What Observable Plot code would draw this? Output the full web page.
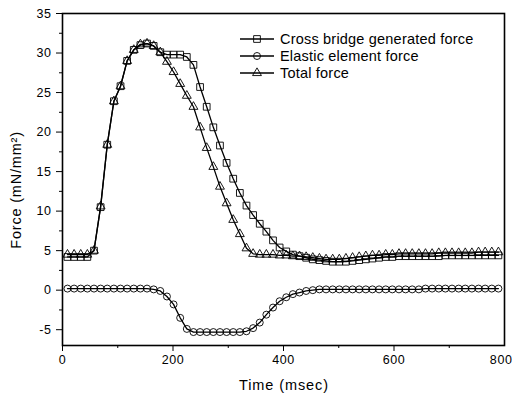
<!DOCTYPE html>
<html><head><meta charset="utf-8">
<script src="https://cdn.jsdelivr.net/npm/d3@7"></script>
<script src="https://cdn.jsdelivr.net/npm/@observablehq/plot@0.6"></script>
<style>body{margin:0;background:#fff}#chart{width:512px;height:397px}</style>
</head><body><div id="chart"></div>
<script>
const times = [9,21,33,45,57,69,81,93,105,117,129,141,153,165,177,189,201,213,225,237,249,261,273,285,297,309,321,333,345,357,369,381,393,405,417,429,441,453,465,477,489,501,513,525,537,549,561,573,585,597,609,621,633,645,657,669,681,693,705,717,729,741,753,765,777,789];
const crossBridge = [4.2,4.2,4.2,4.2,5.0,10.5,18.4,23.9,25.8,29.0,30.4,31.0,31.2,30.9,30.1,29.8,29.8,29.8,29.5,28.5,25.7,23.2,20.6,18.3,16.1,14.1,12.3,10.7,9.5,8.4,7.4,6.3,5.4,4.9,4.5,4.3,4.1,3.9,3.8,3.7,3.6,3.6,3.6,3.7,3.8,3.9,4.0,4.1,4.2,4.2,4.3,4.3,4.3,4.3,4.3,4.3,4.3,4.4,4.4,4.4,4.4,4.4,4.4,4.4,4.4,4.4];
const elastic = [0.2,0.2,0.2,0.2,0.2,0.2,0.2,0.2,0.2,0.2,0.2,0.2,0.2,0.1,-0.1,-0.8,-1.8,-3.5,-4.9,-5.3,-5.3,-5.3,-5.3,-5.3,-5.3,-5.3,-5.3,-5.2,-4.8,-4.1,-3.1,-2.2,-1.4,-0.9,-0.5,-0.3,-0.1,0.0,0.1,0.1,0.1,0.1,0.1,0.1,0.1,0.1,0.1,0.1,0.1,0.1,0.1,0.1,0.1,0.1,0.2,0.2,0.2,0.2,0.2,0.2,0.2,0.2,0.2,0.2,0.2,0.2];
const total = [4.5,4.5,4.5,4.5,5.0,10.6,18.4,23.9,25.8,29.0,30.4,31.1,31.2,30.9,30.1,28.9,27.6,26.1,24.6,23.2,20.6,18.0,15.6,13.1,11.0,8.9,7.1,5.3,4.6,4.5,4.5,4.5,4.4,4.4,4.3,4.3,4.2,4.1,4.0,3.9,3.9,3.9,4.0,4.1,4.2,4.3,4.4,4.4,4.5,4.5,4.6,4.6,4.6,4.6,4.6,4.6,4.7,4.7,4.7,4.7,4.7,4.7,4.8,4.8,4.8,4.8];
const seriesNames = ["Cross bridge generated force","Elastic element force","Total force"];
const seriesSymbols = ["square","circle","triangle"];
const yTicks = [-5,0,5,10,15,20,25,30,35];
const yMinor = [-2.5,2.5,7.5,12.5,17.5,22.5,27.5,32.5];
const xTicks = [0,200,400,600];
const xLastTick = [800];
const xMinor = [100,300,500,700];

const seriesValues = [crossBridge, elastic, total];
const symR = {square:3.8, circle:3.5, triangle:3.3};
const FONT = "'Liberation Sans', Arial, Helvetica, sans-serif";

const marks = [
  Plot.frame({stroke:"#000", strokeWidth:1.6}),
  Plot.axisY({ticks:yTicks, tickSize:6, tickPadding:5, tickFormat:d=>String(d), fontSize:12.5, label:null}),
  Plot.axisY({ticks:yMinor, tickSize:3, text:null, label:null}),
  Plot.axisX({ticks:xTicks, tickSize:6, tickPadding:4, tickFormat:d=>String(d), fontSize:12.5, label:null}),
  Plot.axisX({ticks:xLastTick, tickSize:6, tickPadding:4, tickFormat:d=>String(d), fontSize:12.5, textAnchor:"end", dx:8, label:null}),
  Plot.axisX({ticks:xMinor, tickSize:3, text:null, label:null})
];
seriesValues.forEach((vals, i) => {
  const data = times.map((t, j) => ({t, v: vals[j]}));
  marks.push(Plot.line(data, {x:"t", y:"v", stroke:"#000", strokeWidth:1.3}));
  marks.push(Plot.dot(data, {x:"t", y:"v", symbol:()=>seriesSymbols[i], r:symR[seriesSymbols[i]], stroke:"#000", strokeWidth:0.9, fill:"none"}));
});

const svgEl = Plot.plot({
  width:512, height:397,
  marginLeft:62, marginRight:8, marginTop:13, marginBottom:52,
  x:{domain:[0,800], label:null},
  y:{domain:[-7,35], label:null},
  symbol:{domain:seriesSymbols, range:seriesSymbols},
  style:{fontFamily:FONT, fontSize:"12.5px", color:"#000", background:"#fff", letterSpacing:"0.6px"},
  marks
});
document.getElementById("chart").appendChild(svgEl);

const svg = d3.select(svgEl);
// Legend
const lg = svg.append("g").attr("text-anchor","start");
const symMap = {square:d3.symbolSquare, circle:d3.symbolCircle, triangle:d3.symbolTriangle};
seriesNames.forEach((name, i) => {
  const cy = 39 + i*17;
  lg.append("line").attr("x1",240).attr("x2",274).attr("y1",cy).attr("y2",cy).attr("stroke","#000").attr("stroke-width",1.3);
  const r = symR[seriesSymbols[i]];
  lg.append("path").attr("d", d3.symbol(symMap[seriesSymbols[i]], Math.PI*r*r)()).attr("transform",`translate(257,${cy})`).attr("fill","none").attr("stroke","#000").attr("stroke-width",0.9);
  lg.append("text").attr("x",280).attr("y",cy+5).attr("text-anchor","start").text(name).attr("font-family",FONT).attr("font-size","14.5px").attr("letter-spacing","0.2px").attr("fill","#000");
});
// Axis titles
svg.append("text").attr("x",284).attr("y",390).attr("text-anchor","middle").attr("font-family",FONT).attr("font-size","14.5px").attr("letter-spacing","0.9px").attr("fill","#000").text("Time (msec)");
svg.append("text").attr("transform","translate(21,190) rotate(-90)").attr("text-anchor","middle").attr("font-family",FONT).attr("font-size","14.5px").attr("letter-spacing","0.8px").attr("fill","#000").text("Force (mN/mm²)");
</script>
</body></html>
